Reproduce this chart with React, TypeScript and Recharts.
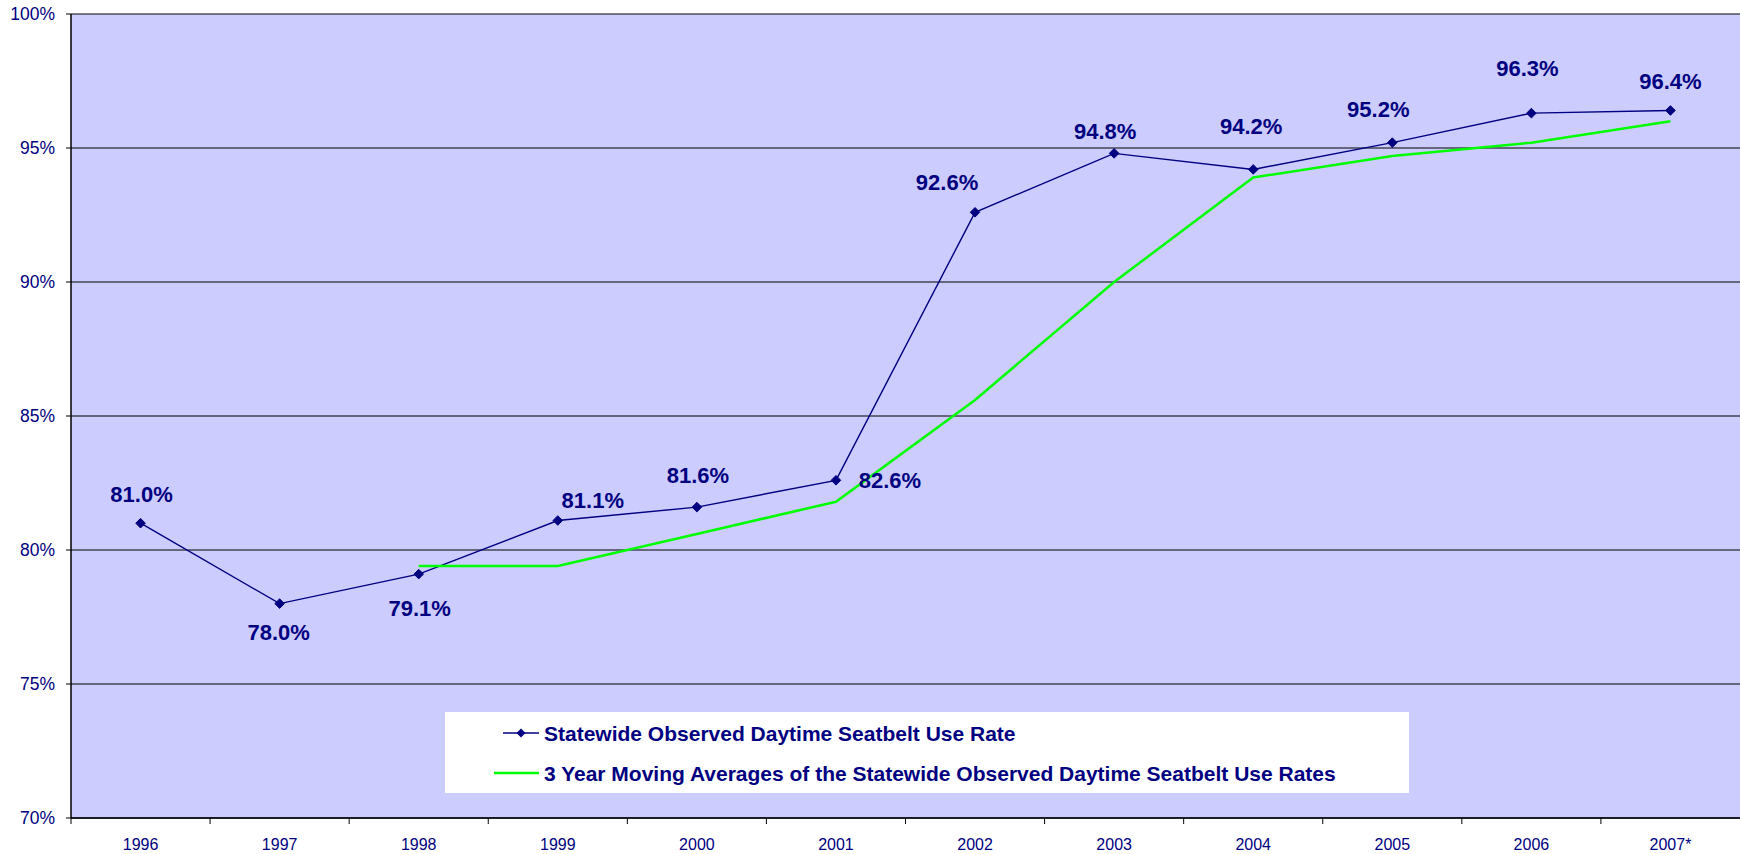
import React from 'react';
import { LineChart, Line, XAxis, YAxis, CartesianGrid, Legend, LabelList } from 'recharts';

const YEARS = ['1996', '1997', '1998', '1999', '2000', '2001', '2002', '2003', '2004', '2005', '2006', '2007*'];
const USE_RATE = [81.0, 78.0, 79.1, 81.1, 81.6, 82.6, 92.6, 94.8, 94.2, 95.2, 96.3, 96.4];
const MOVING_AVG: (number | null)[] = [null, null, 79.4, 79.4, 80.6, 81.8, 85.6, 90.0, 93.9, 94.7, 95.2, 96.0];
const Y_TICKS = [70, 75, 80, 85, 90, 95, 100];
const SERIES_NAMES = [
  'Statewide Observed Daytime Seatbelt Use Rate',
  '3 Year Moving Averages of the Statewide Observed Daytime Seatbelt Use Rates',
];

const W = 1740;
const H = 854;
const Y_AXIS_W = 71;
const PLOT_W = W - Y_AXIS_W;
const STEP = PLOT_W / YEARS.length;
const NAVY = '#000080';
const GREEN = '#00FF00';
const FONT = '"Liberation Sans", Arial, sans-serif';

// manual label placement (dx, dy relative to the marker)
const LABEL_OFFSETS: [number, number][] = [
  [1, -29], [-1, 29], [1, 34], [35, -20], [1, -32], [54, 0],
  [-28, -30], [-9, -22], [-2, -43], [-14, -33], [-4, -45], [0, -29],
];

const data = YEARS.map((y, i) => ({ year: y, rate: USE_RATE[i], avg: MOVING_AVG[i] }));

const XTick = (props: any) => {
  const { x, y, payload } = props;
  const bx = x - STEP / 2;
  return (
    <g>
      <line x1={bx} y1={y} x2={bx} y2={y + 6} stroke="#000" strokeWidth={1} />
      <text x={x} y={y + 26} textAnchor="middle" dominantBaseline="central" fill={NAVY} fontSize={16} fontFamily={FONT}>
        {payload.value}
      </text>
    </g>
  );
};

const Diamond = (props: any) => {
  const { cx, cy, index } = props;
  if (cx == null || cy == null) return <g key={`d${index}`} />;
  const r = 4.8;
  return (
    <path
      key={`d${index}`}
      d={`M${cx},${cy - r} L${cx + r},${cy} L${cx},${cy + r} L${cx - r},${cy} Z`}
      fill={NAVY}
      stroke={NAVY}
      strokeWidth={1}
    />
  );
};

const DataLabel = (props: any) => {
  const { x, y, value, index } = props;
  const [dx, dy] = LABEL_OFFSETS[index] || [0, -30];
  return (
    <text
      x={x + dx}
      y={y + dy}
      textAnchor="middle"
      dominantBaseline="central"
      fill={NAVY}
      fontSize={22}
      fontWeight="bold"
      fontFamily={FONT}
    >
      {`${Number(value).toFixed(1)}%`}
    </text>
  );
};

const LegendContent = (props: any) => {
  const payload = [...(props.payload || [])].sort(
    (a: any, b: any) => SERIES_NAMES.indexOf(a.value) - SERIES_NAMES.indexOf(b.value)
  );
  return (
    <svg width={964} height={81} style={{ display: 'block' }}>
      <rect x={0} y={0} width={964} height={81} fill="#fff" />
      {payload.map((p: any, i: number) => {
        const cy = i === 0 ? 21 : 61;
        const isRate = p.dataKey === 'rate';
        return (
          <g key={i}>
            {isRate ? (
              <>
                <line x1={58} y1={cy} x2={94} y2={cy} stroke={NAVY} strokeWidth={1.5} />
                <path d={`M76,${cy - 4.5} L80.5,${cy} L76,${cy + 4.5} L71.5,${cy} Z`} fill={NAVY} />
              </>
            ) : (
              <line x1={49} y1={cy} x2={94} y2={cy} stroke={GREEN} strokeWidth={2.5} />
            )}
            <text x={99} y={cy} dominantBaseline="central" fill={NAVY} fontSize={21} fontWeight="bold" fontFamily={FONT}>
              {p.value}
            </text>
          </g>
        );
      })}
    </svg>
  );
};

export default function App() {
  return (
    <div style={{ position: 'absolute', left: 0, top: 0, width: W, height: H, background: '#fff' }}>
      <LineChart width={W} height={H} data={data} margin={{ top: 14, right: 0, bottom: 0, left: 0 }}>
        <CartesianGrid vertical={false} stroke="#000" strokeWidth={1} fill="#CCCCFF" fillOpacity={1} />
        <XAxis
          dataKey="year"
          interval={0}
          height={36}
          padding={{ left: STEP / 2, right: STEP / 2 }}
          axisLine={{ stroke: '#000', strokeWidth: 1.5 }}
          tickLine={false}
          tickSize={0}
          tickMargin={0}
          tick={<XTick />}
        />
        <YAxis
          width={Y_AXIS_W}
          domain={[70, 100]}
          ticks={Y_TICKS}
          interval={0}
          tickFormatter={(v: number) => `${v}%`}
          axisLine={{ stroke: '#000', strokeWidth: 1.5 }}
          tickLine={{ stroke: '#000' }}
          tickSize={5}
          tickMargin={11}
          tick={{ fill: NAVY, fontSize: 17.5, fontFamily: FONT }}
        />
        <Legend
          layout="vertical"
          align="center"
          verticalAlign="middle"
          wrapperStyle={{ position: 'absolute', left: 445, top: 712, width: 964, height: 81 }}
          content={<LegendContent />}
        />
        <Line
          name={SERIES_NAMES[0]}
          dataKey="rate"
          stroke={NAVY}
          strokeWidth={1.4}
          dot={Diamond}
          activeDot={false}
          isAnimationActive={false}
        >
          <LabelList dataKey="rate" content={DataLabel} />
        </Line>
        <Line
          name={SERIES_NAMES[1]}
          dataKey="avg"
          stroke={GREEN}
          strokeWidth={2.5}
          dot={false}
          activeDot={false}
          connectNulls={false}
          isAnimationActive={false}
        />
      </LineChart>
    </div>
  );
}
